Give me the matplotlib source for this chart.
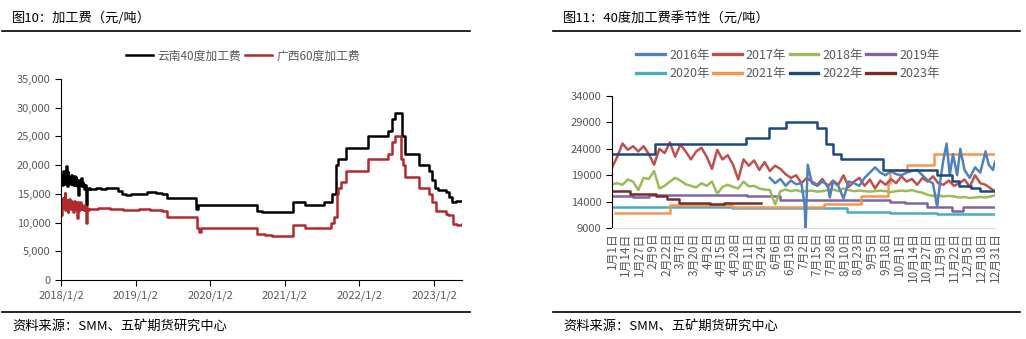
import numpy as np
import pandas as pd
import matplotlib
matplotlib.use("Agg")
import matplotlib.pyplot as plt
from matplotlib.lines import Line2D
from matplotlib.ticker import FuncFormatter

plt.rcParams['font.family'] = ['Noto Sans CJK SC', 'DejaVu Sans']

# ==================================================
# Data: figure 10 (processing fee, yuan/ton)
# ==================================================

# noisy start of 2018, one value every 3 days from 2018-01-02
noisy_start = "2018-01-02"
yn40_noisy = [17000, 18200, 16500, 17800, 19000, 16800, 18500, 17200, 19800, 17500,
              16400, 18800, 17600, 18000, 16900, 17800, 16700, 18300, 17100, 17600,
              16600, 18100, 17300, 16500, 17900, 17000, 16300, 17400, 14800, 17200,
              16600, 17500, 16900, 17800, 16400, 17000, 16800, 16200, 15900, 16500,
              15800, 13000, 16000, 15800, 15900, 16000]
gx60_noisy = [11300, 13800, 12500, 14200, 12800, 13500, 15200, 12200, 14000, 12600,
              13900, 11800, 13400, 14100, 12500, 13600, 12300, 13800, 12900, 13300,
              11900, 13700, 12800, 13500, 12400, 13200, 10800, 13600, 12700, 13100,
              12200, 13500, 12600, 13000, 12400, 12900, 12700, 12200, 13000, 12500,
              12300, 10000, 12300, 12500, 12200, 12400]

# step changes after that
yn40_dates = ["2018-05-22", "2018-06-20", "2018-07-15", "2018-08-10", "2018-09-05",
              "2018-10-10", "2018-10-25", "2018-11-15", "2018-12-10", "2019-01-20",
              "2019-03-01", "2019-04-10", "2019-05-10", "2019-06-05", "2019-10-25",
              "2019-11-05", "2019-11-20", "2020-08-20", "2020-09-10", "2020-10-20",
              "2021-02-10", "2021-04-10", "2021-07-10", "2021-08-20", "2021-09-10",
              "2021-09-18", "2021-10-27", "2022-02-15", "2022-05-20", "2022-06-10",
              "2022-06-25", "2022-07-20", "2022-07-28", "2022-08-12", "2022-10-20",
              "2022-12-10", "2022-12-25", "2023-01-05", "2023-01-20", "2023-03-01",
              "2023-03-15", "2023-04-01", "2023-04-20", "2023-05-20"]
yn40_vals = [15900, 16100, 15900, 16000, 16100,
             15500, 15000, 14800, 15000, 14900,
             15300, 15200, 15000, 14300, 12400,
             13000, 13000, 12000, 11800, 11800,
             13500, 13000, 13500, 15000, 20000,
             21000, 23000, 25000, 26000, 28000,
             29000, 29000, 25000, 22000, 20000,
             19000, 17500, 16000, 15600, 15300,
             14500, 13600, 13800, 13800]

gx60_dates = ["2018-05-22", "2018-07-01", "2018-09-01", "2018-11-01", "2019-01-20",
              "2019-03-15", "2019-05-10", "2019-06-05", "2019-10-28", "2019-11-10",
              "2019-11-20", "2020-08-20", "2020-09-25", "2020-11-01", "2021-02-10",
              "2021-04-10", "2021-08-15", "2021-08-28", "2021-09-12", "2021-09-20",
              "2021-10-05", "2021-10-27", "2022-02-15", "2022-05-20", "2022-06-10",
              "2022-06-25", "2022-07-25", "2022-08-05", "2022-08-15", "2022-10-20",
              "2022-12-10", "2022-12-25", "2023-01-10", "2023-02-05", "2023-03-01",
              "2023-03-10", "2023-04-05", "2023-04-25", "2023-05-20"]
gx60_vals = [12300, 12500, 12300, 12200, 12300,
             12200, 12000, 11000, 9000, 8300,
             9000, 8000, 7800, 7700, 9500,
             9000, 10000, 11000, 15000, 16000,
             17000, 19000, 21000, 22000, 24000,
             25000, 21000, 20000, 18000, 16000,
             15000, 13500, 12000, 12000, 11500,
             11300, 9700, 9500, 9800]

# ==================================================
# Data: figure 11 (40-degree fee seasonality, day of year 0..364)
# ==================================================

season_tick_labels = ["1月1日", "1月14日", "1月27日", "2月9日", "2月22日", "3月7日",
                      "3月20日", "4月2日", "4月15日", "4月28日", "5月11日", "5月24日",
                      "6月6日", "6月19日", "7月2日", "7月15日", "7月28日", "8月10日",
                      "8月23日", "9月5日", "9月18日", "10月1日", "10月14日", "10月27日",
                      "11月9日", "11月22日", "12月5日", "12月18日", "12月31日"]

days_2016 = [150, 155, 160, 165, 170, 175, 180, 183, 184, 186, 190, 195, 200, 205, 207,
             210, 215, 220, 225, 230, 235, 240, 245, 250, 255, 260, 265, 270, 275, 280,
             285, 290, 295, 300, 305, 309, 312, 315, 318, 321, 324, 328, 331, 335, 340,
             345, 350, 355, 358, 362, 364]
vals_2016 = [18500, 17500, 18300, 17000, 18000, 17300, 17500, 13500, 9000, 21000, 17500,
             17000, 17800, 17200, 14800, 17800, 17000, 14600, 17800, 17500, 17000, 18500,
             19500, 20500, 19500, 19000, 19800, 19200, 19000, 19500, 19800, 20000, 19000,
             18000, 17500, 13000, 18000, 22000, 25000, 19000, 23000, 19000, 24000, 20000,
             18500, 20500, 19500, 23500, 21000, 20000, 21500]

# 2017 / 2018: one value every 5 days, last one on day 364
vals_2017 = [20500, 22500, 25000, 23800, 24500, 23500, 24500, 23000, 21000, 24000,
             23200, 25200, 22500, 24800, 23500, 22000, 23500, 24200, 22500, 20200,
             23800, 22000, 22800, 21000, 18200, 22000, 20800, 21800, 20000, 21500,
             19800, 20800, 20200, 19200, 18500, 19000, 17500, 18500, 17800, 17200,
             18300, 16800, 18000, 17200, 19000, 16800, 17800, 18500, 17000, 18200,
             16500, 18000, 17200, 18300, 17500, 18800, 17800, 18300, 17200, 18500,
             17800, 18800, 17500, 17200, 18000, 17000, 17500, 18200, 16800, 19000,
             17500, 17200, 16500, 16000]
vals_2018 = [17300, 17500, 17200, 18200, 17800, 16200, 18500, 18300, 19800, 16500,
             17000, 17800, 18500, 18000, 17300, 17000, 16700, 17500, 17000, 17800,
             15500, 16800, 17200, 16800, 16500, 17800, 16900, 17000, 16500, 16300,
             16200, 13500, 16000, 16300, 16000, 16200, 15900, 16000, 16100, 15900,
             16000, 16200, 16300, 16000, 16500, 16200, 16000, 16100, 16000, 15900,
             16000, 16100, 16000, 15800, 16000, 16100, 16000, 16200, 15900, 15700,
             15300, 15100, 15200, 15000, 15100, 15000, 14800, 14900, 14700, 14800,
             14900, 14800, 15000, 15200]

days_2019 = [0, 20, 35, 55, 128, 160, 264, 278, 299, 323, 334, 364]
vals_2019 = [15000, 14800, 15200, 15300, 15000, 14300, 14000, 13800, 13000, 12300, 13000, 13000]

days_2020 = [0, 114, 223, 264, 309, 364]
vals_2020 = [13000, 12900, 12000, 11800, 11700, 11700]

days_2021 = [3, 55, 114, 201, 237, 262, 264, 280, 306, 364]
vals_2021 = [11800, 13400, 13000, 13500, 15000, 17500, 20000, 21000, 23000, 23000]

days_2022 = [0, 41, 127, 149, 165, 195, 203, 210, 218, 258, 309, 323, 330, 341, 350, 364]
vals_2022 = [23000, 25000, 26000, 28000, 29000, 28000, 25000, 23000, 22000, 20000,
             19000, 18000, 17000, 16500, 16000, 16000]

days_2023 = [0, 17, 42, 52, 64, 93, 106, 142]
vals_2023 = [16000, 15500, 15000, 14500, 13800, 13500, 13800, 13800]

season_years = ["2016年", "2017年", "2018年", "2019年", "2020年", "2021年", "2022年", "2023年"]
season_colors = ["#4F81BD", "#C0504D", "#9BBB59", "#8064A2",
                 "#4BACC6", "#F79646", "#1F497D", "#772C2A"]

GRAY = "#595959"

# ==================================================
# Figure
# ==================================================

fig = plt.figure(figsize=(10.26, 3.39), dpi=100)

# frame lines and texts
for x0, x1 in [(0.002, 0.458), (0.539, 0.994)]:
    fig.add_artist(Line2D([x0, x1], [0.9086, 0.9086], color="black", lw=1.2))
    fig.add_artist(Line2D([x0, x1], [0.0796, 0.0796], color="black", lw=1.2))
fig.text(0.0117, 0.947, "图10：加工费（元/吨）", fontsize=9.5, va="center")
fig.text(0.549, 0.947, "图11：40度加工费季节性（元/吨）", fontsize=9.5, va="center")
fig.text(0.0117, 0.037, "资料来源：SMM、五矿期货研究中心", fontsize=9.5, va="center")
fig.text(0.549, 0.037, "资料来源：SMM、五矿期货研究中心", fontsize=9.5, va="center")

# ---------- left chart ----------
ax1 = fig.add_axes([0.0595, 0.174, 0.391, 0.593])

noisy_dates = pd.date_range(noisy_start, periods=len(yn40_noisy), freq="3D")
yn_x = list(noisy_dates) + list(pd.to_datetime(yn40_dates))
yn_y = yn40_noisy + yn40_vals
gx_x = list(noisy_dates) + list(pd.to_datetime(gx60_dates))
gx_y = gx60_noisy + gx60_vals

ax1.plot(yn_x, yn_y, color="black", lw=1.8, drawstyle="steps-post", label="云南40度加工费")
ax1.plot(gx_x, gx_y, color="#B22A2E", lw=1.8, drawstyle="steps-post", label="广西60度加工费")

ax1.set_xlim(pd.Timestamp("2018-01-02"), pd.Timestamp("2023-05-20"))
ax1.set_ylim(0, 35000)
ax1.set_yticks(np.arange(0, 35001, 5000))
ax1.yaxis.set_major_formatter(FuncFormatter(lambda v, p: f"{int(v):,}"))
xt = pd.to_datetime([f"{y}-01-02" for y in range(2018, 2024)])
ax1.set_xticks(xt)
ax1.set_xticklabels([f"{y}/1/2" for y in range(2018, 2024)])
for s in ["top", "right"]:
    ax1.spines[s].set_visible(False)
ax1.tick_params(colors=GRAY, labelsize=8, length=4, labelcolor=GRAY)
ax1.tick_params(axis="both", color="black")
ax1.legend(loc="center", bbox_to_anchor=(0.237, 0.835), bbox_transform=fig.transFigure,
           ncol=2, frameon=False, fontsize=8.5, handlelength=2.3, columnspacing=0.3,
           handletextpad=0.4, labelcolor=GRAY)

# ---------- right chart ----------
ax2 = fig.add_axes([0.5965, 0.327, 0.3733, 0.39])

days_5 = list(range(0, 365, 5)) + [364]
season_series = [
    (days_2016, vals_2016, "-"),
    (days_5, vals_2017, "-"),
    (days_5, vals_2018, "-"),
    (days_2019, vals_2019, "steps-post"),
    (days_2020, vals_2020, "steps-post"),
    (days_2021, vals_2021, "steps-post"),
    (days_2022, vals_2022, "steps-post"),
    (days_2023, vals_2023, "steps-post"),
]
draw_order = [4, 3, 5, 2, 1, 0, 6, 7]
handles = {}
for i in draw_order:
    d, v, ds = season_series[i]
    kw = {} if ds == "-" else {"drawstyle": ds}
    (h,) = ax2.plot(d, v, color=season_colors[i], lw=1.8, label=season_years[i], **kw)
    handles[i] = h

ax2.set_xlim(0, 364)
ax2.set_ylim(9000, 34000)
ax2.set_yticks(np.arange(9000, 34001, 5000))
ax2.set_xticks(np.arange(0, 365, 13))
ax2.set_xticklabels(season_tick_labels, rotation=90)
for s in ["top", "right"]:
    ax2.spines[s].set_visible(False)
ax2.spines["bottom"].set_color("#D9D9D9")
ax2.tick_params(axis="y", colors="black", labelcolor=GRAY, labelsize=8, length=4)
ax2.tick_params(axis="x", length=0, labelcolor=GRAY, labelsize=8.5, pad=3)

leg_order = [0, 4, 1, 5, 2, 6, 3, 7]
leg = ax2.legend([handles[i] for i in leg_order], [season_years[i] for i in leg_order],
                 loc="center", bbox_to_anchor=(0.768, 0.81), bbox_transform=fig.transFigure,
                 ncol=4, frameon=False, fontsize=9, handlelength=2.3, columnspacing=0.25,
                 handletextpad=0.35, labelspacing=0.45, labelcolor=GRAY)
for line in leg.get_lines():
    line.set_linewidth(2.4)

fig.savefig("out.png", dpi=100)
